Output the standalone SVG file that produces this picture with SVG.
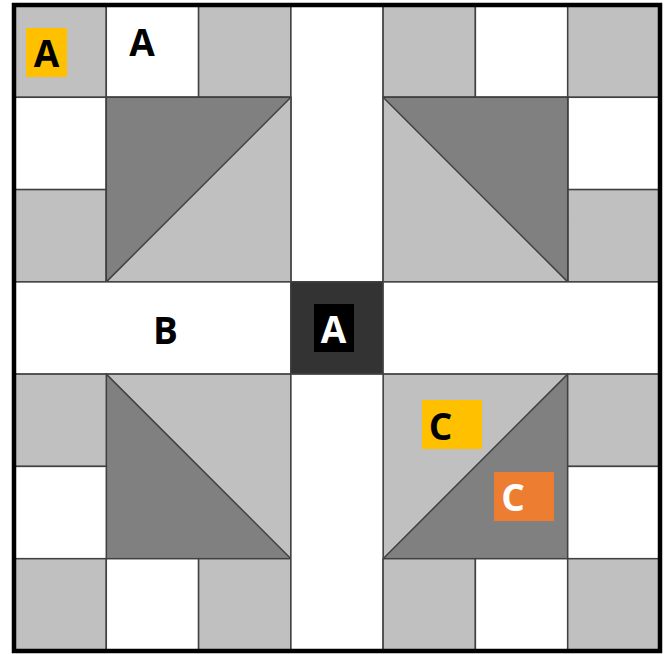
<svg xmlns="http://www.w3.org/2000/svg" width="668" height="654" viewBox="0 0 668 654">
<style>
.l{fill:#c0c0c0;stroke:#404040;stroke-width:1.5}
.d{fill:#808080;stroke:#404040;stroke-width:1.5;stroke-linejoin:round}
.w{fill:#ffffff;stroke:#404040;stroke-width:1.5}
.t{font-family:"Open Sans","Liberation Sans",sans-serif;font-weight:bold;font-size:37px;text-anchor:middle}
</style>
<rect x="0" y="0" width="668" height="654" fill="#ffffff"/>
<g id="cells-top">
<rect class="l" x="14" y="5" width="92.3" height="92.3"/>
<rect class="w" x="106.3" y="5" width="92.3" height="92.3"/>
<rect class="l" x="198.6" y="5" width="92.3" height="92.3"/>
<rect class="w" x="290.9" y="5" width="92.2" height="276.9"/>
<rect class="l" x="383.1" y="5" width="92.3" height="92.3"/>
<rect class="w" x="475.4" y="5" width="92.3" height="92.3"/>
<rect class="l" x="567.7" y="5" width="92.3" height="92.3"/>
<rect class="w" x="14" y="97.3" width="92.3" height="92.3"/>
<rect class="l" x="14" y="189.6" width="92.3" height="92.3"/>
<rect class="w" x="567.7" y="97.3" width="92.3" height="92.3"/>
<rect class="l" x="567.7" y="189.6" width="92.3" height="92.3"/>
</g>
<g id="block-top-left">
<rect class="l" x="106.3" y="97.3" width="184.6" height="184.6"/>
<polygon class="d" points="106.3,97.3 290.9,97.3 106.3,281.9"/>
</g>
<g id="block-top-right">
<rect class="l" x="383.1" y="97.3" width="184.6" height="184.6"/>
<polygon class="d" points="383.1,97.3 567.7,97.3 567.7,281.9"/>
</g>
<g id="middle-row">
<rect class="w" x="14" y="281.9" width="276.9" height="92.2"/>
<rect fill="#333333" stroke="#404040" stroke-width="1.5" x="290.9" y="281.9" width="92.2" height="92.2"/>
<rect class="w" x="383.1" y="281.9" width="276.9" height="92.2"/>
</g>
<g id="block-bottom-left">
<rect class="l" x="106.3" y="374.1" width="184.6" height="184.6"/>
<polygon class="d" points="106.3,374.1 290.9,558.7 106.3,558.7"/>
</g>
<g id="block-bottom-right">
<rect class="l" x="383.1" y="374.1" width="184.6" height="184.6"/>
<polygon class="d" points="567.7,374.1 567.7,558.7 383.1,558.7"/>
</g>
<g id="cells-bottom">
<rect class="l" x="14" y="374.1" width="92.3" height="92.3"/>
<rect class="w" x="14" y="466.4" width="92.3" height="92.3"/>
<rect class="l" x="567.7" y="374.1" width="92.3" height="92.3"/>
<rect class="w" x="567.7" y="466.4" width="92.3" height="92.3"/>
<rect class="l" x="14" y="558.7" width="92.3" height="92.3"/>
<rect class="w" x="106.3" y="558.7" width="92.3" height="92.3"/>
<rect class="l" x="198.6" y="558.7" width="92.3" height="92.3"/>
<rect class="w" x="290.9" y="374.1" width="92.2" height="276.9"/>
<rect class="l" x="383.1" y="558.7" width="92.3" height="92.3"/>
<rect class="w" x="475.4" y="558.7" width="92.3" height="92.3"/>
<rect class="l" x="567.7" y="558.7" width="92.3" height="92.3"/>
</g>
<rect x="14" y="5" width="646" height="646" fill="none" stroke="#000000" stroke-width="4.5"/>
<g id="labels">
<rect x="26" y="28" width="41" height="49" fill="#ffc000"/>
<text class="t" x="46.5" y="66.5" fill="#000000">A</text>
<text class="t" x="142" y="56" fill="#000000">A</text>
<text class="t" x="165.5" y="344" fill="#000000">B</text>
<rect x="314" y="304" width="40" height="48" fill="#000000"/>
<text class="t" x="333.5" y="343" fill="#ffffff">A</text>
<rect x="422" y="400" width="60" height="49" fill="#ffc000"/>
<text class="t" x="440.5" y="440" fill="#000000">C</text>
<rect x="494" y="472" width="60" height="49" fill="#ed7d31"/>
<text class="t" x="513" y="511" fill="#ffffff">C</text>
</g>
</svg>
